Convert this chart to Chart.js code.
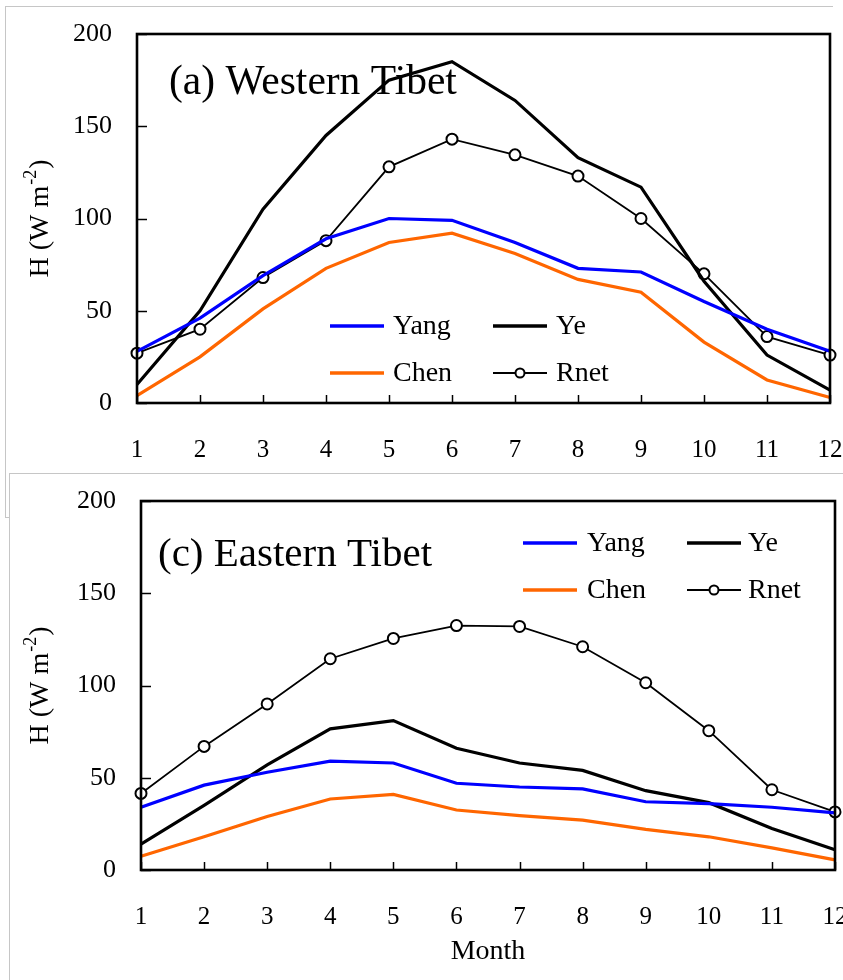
<!DOCTYPE html>
<html>
<head>
<meta charset="utf-8">
<script src="https://cdn.jsdelivr.net/npm/chart.js@4"></script>
<style>
  html, body { margin: 0; padding: 0; background: #fff; width: 843px; height: 980px; overflow: hidden; position: relative; }
  .frame { position: absolute; box-sizing: border-box; border: 0 solid #c6c6c6; background: #fff; }
  #frameTop { left: 5px; top: 6px; width: 828px; height: 512px; border-top-width: 1px; border-left-width: 1px; border-bottom-width: 1px; }
  #frameBottom { left: 9px; top: 473px; width: 834px; height: 507px; border-top-width: 1px; border-left-width: 1px; }
  canvas { position: absolute; left: 0; }
  #west { top: 0; }
  #east { top: 473px; }
</style>
</head>
<body>
<div class="frame" id="frameTop"></div>
<div class="frame" id="frameBottom"></div>
<canvas id="west" width="843" height="472"></canvas>
<canvas id="east" width="843" height="507"></canvas>
<script>
// Monthly mean sensible heat flux H (W m-2) and net radiation over the Tibetan Plateau
const months = ['1', '2', '3', '4', '5', '6', '7', '8', '9', '10', '11', '12'];
const yTicks = [0, 50, 100, 150, 200];

// (a) Western Tibet
const yangWest = [28, 46, 69, 89, 100, 99, 87, 73, 71, 55, 40, 28];
const chenWest = [4, 25, 51, 73, 87, 92, 81, 67, 60, 33, 12.5, 3];
const yeWest   = [10, 50, 105, 145, 175, 185, 164, 133, 117, 66, 26, 7];
const rnetWest = [27, 40, 68, 88, 128, 143, 134.5, 123, 100, 70, 36, 26];

// (c) Eastern Tibet
const yangEast = [34, 46, 53, 59, 58, 47, 45, 44, 37, 36, 34, 31];
const chenEast = [7.5, 18, 29, 38.5, 41, 32.5, 29.5, 27, 22, 18, 12, 5.5];
const yeEast   = [14, 35, 57, 76.5, 81, 66, 58, 54, 43, 36.5, 22.5, 11];
const rnetEast = [41.5, 67, 90, 114.5, 125.5, 132.5, 132, 121, 101.5, 75.5, 43.5, 31.5];

const SERIF = "'Liberation Serif', 'Times New Roman', serif";
const BLUE = '#0000ff';
const ORANGE = '#ff6600';
const BLACK = '#000000';

function makeDatasets(yang, chen, ye, rnet) {
  const solid = (label, data, color) => ({
    label, data, borderColor: color, backgroundColor: color,
    borderWidth: 3.2, pointRadius: 0, pointHoverRadius: 0, tension: 0, fill: false
  });
  return [
    solid('Yang', yang, BLUE),
    solid('Chen', chen, ORANGE),
    solid('Ye', ye, BLACK),
    {
      label: 'Rnet', data: rnet, borderColor: BLACK, backgroundColor: '#ffffff',
      borderWidth: 1.8, pointRadius: 5.5, pointBorderWidth: 2, pointBorderColor: BLACK,
      pointBackgroundColor: '#ffffff', tension: 0, fill: false
    }
  ];
}

// Frame, inward ticks, panel label, 2x2 legend and the y-axis title with superscript
const panelDecor = {
  id: 'panelDecor',
  afterDraw(chart, args, o) {
    const { ctx, chartArea: a, scales } = chart;
    ctx.save();
    ctx.strokeStyle = BLACK;
    ctx.lineCap = 'butt';

    ctx.lineWidth = 1.5;
    scales.y.ticks.forEach(t => {
      const y = Math.round(scales.y.getPixelForValue(t.value)) + 0.5;
      ctx.beginPath(); ctx.moveTo(a.left, y); ctx.lineTo(a.left + 10, y); ctx.stroke();
    });
    scales.x.ticks.forEach((t, i) => {
      const x = Math.round(scales.x.getPixelForTick(i)) + 0.5;
      ctx.beginPath(); ctx.moveTo(x, a.bottom); ctx.lineTo(x, a.bottom - 8); ctx.stroke();
    });

    ctx.lineWidth = 2.6;
    ctx.strokeRect(a.left, a.top, a.right - a.left, a.bottom - a.top);

    // panel label
    ctx.fillStyle = BLACK;
    ctx.textBaseline = 'alphabetic';
    ctx.textAlign = 'left';
    ctx.font = `${o.titleSize}px ${SERIF}`;
    ctx.fillText(o.title, a.left + o.titleDx, a.top + o.titleDy);

    // legend: column 0 = Yang, Chen; column 1 = Ye, Rnet
    ctx.font = `28px ${SERIF}`;
    ctx.textBaseline = 'middle';
    chart.data.datasets.forEach((ds, i) => {
      const col = i < 2 ? 0 : 1, row = i % 2;
      const x0 = a.left + o.legCols[col];
      const y0 = a.top + o.legRows[row];
      ctx.strokeStyle = ds.borderColor;
      ctx.lineWidth = ds.pointRadius > 0 ? 2.2 : 3.6;
      ctx.beginPath(); ctx.moveTo(x0, y0); ctx.lineTo(x0 + 54, y0); ctx.stroke();
      if (ds.pointRadius > 0) {
        ctx.fillStyle = '#ffffff';
        ctx.lineWidth = 2;
        ctx.beginPath(); ctx.arc(x0 + 27, y0, 4.5, 0, Math.PI * 2); ctx.fill(); ctx.stroke();
      }
      ctx.fillStyle = BLACK;
      ctx.fillText(ds.label, x0 + o.legText[col], y0 + 1);
    });

    // rotated y-axis title: H (W m^-2)
    const cy = (a.top + a.bottom) / 2;
    ctx.translate(o.yTitleX, cy);
    ctx.rotate(-Math.PI / 2);
    ctx.textBaseline = 'alphabetic';
    const big = `28px ${SERIF}`, small = `18px ${SERIF}`;
    ctx.font = big; const w1 = ctx.measureText('H (W m').width; const w3 = ctx.measureText(')').width;
    ctx.font = small; const w2 = ctx.measureText('-2').width;
    let x = -(w1 + w2 + w3 + 2) / 2;
    const base = 10;
    ctx.font = big; ctx.fillText('H (W m', x, base); x += w1 + 1;
    ctx.font = small; ctx.fillText('-2', x, base - 12); x += w2 + 1;
    ctx.font = big; ctx.fillText(')', x, base);
    ctx.restore();
  }
};

function makeChart(id, datasets, cfg) {
  return new Chart(document.getElementById(id), {
    type: 'line',
    data: { labels: months, datasets },
    plugins: [panelDecor],
    options: {
      responsive: false,
      devicePixelRatio: 1,
      animation: false,
      events: [],
      layout: { padding: cfg.padding },
      plugins: {
        legend: { display: false },
        tooltip: { enabled: false },
        panelDecor: cfg.decor
      },
      scales: {
        x: {
          type: 'category',
          offset: false,
          grid: { display: false, drawTicks: false },
          border: { display: false },
          ticks: { color: BLACK, font: { family: SERIF, size: 25 }, padding: cfg.xPad, maxRotation: 0, autoSkip: false },
          title: cfg.xTitle,
          afterFit(s) { s.height = cfg.xHeight; s.paddingLeft = 0; s.paddingRight = 0; }
        },
        y: {
          min: 0, max: 200,
          afterBuildTicks(s) { s.ticks = yTicks.map(v => ({ value: v })); },
          grid: { display: false, drawTicks: false },
          border: { display: false },
          ticks: { color: BLACK, font: { family: SERIF, size: 26 }, padding: 25 },
          afterFit(s) { s.width = cfg.yWidth; s.paddingTop = 0; s.paddingBottom = 0; }
        }
      }
    }
  });
}

makeChart('west', makeDatasets(yangWest, chenWest, yeWest, rnetWest), {
  padding: { top: 34, right: 13, left: 0, bottom: 0 },
  yWidth: 137,
  xHeight: 69,
  xPad: 32,
  xTitle: { display: false },
  decor: {
    title: '(a) Western Tibet', titleSize: 41.5, titleDx: 32, titleDy: 60,
    legCols: [193, 356], legRows: [292, 339], legText: [63, 63],
    yTitleX: 38
  }
});

makeChart('east', makeDatasets(yangEast, chenEast, yeEast, rnetEast), {
  padding: { top: 28, right: 8, left: 0, bottom: 0 },
  yWidth: 141,
  xHeight: 110,
  xPad: 32,
  xTitle: { display: true, text: 'Month', color: BLACK, font: { family: SERIF, size: 28 }, padding: { top: 0, bottom: 12 } },
  decor: {
    title: '(c) Eastern Tibet', titleSize: 41, titleDx: 17, titleDy: 65,
    legCols: [382, 546], legRows: [42, 89], legText: [64, 61],
    yTitleX: 38
  }
});
</script>
</body>
</html>
